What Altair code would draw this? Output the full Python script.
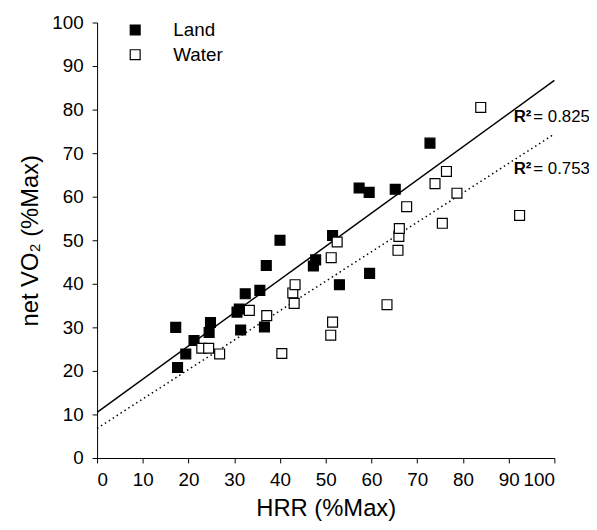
import altair as alt
import pandas as pd

# ---- data ----
land_x = [17.2, 17.6, 19.4, 21.2, 24.5, 24.8, 30.6, 31.1, 31.4, 32.4, 35.6, 36.6,
          37.0, 40.0, 47.3, 47.8, 51.5, 53.0, 57.3, 59.5, 59.6, 65.2, 72.8]
land_y = [30.0, 20.8, 23.9, 27.0, 28.8, 31.1, 33.5, 34.2, 29.4, 37.7, 38.5, 30.1,
          44.2, 50.0, 44.1, 45.5, 51.1, 39.8, 62.0, 61.0, 42.4, 61.7, 72.3]

water_x = [22.9, 24.4, 26.8, 33.3, 37.1, 40.4, 42.8, 43.1, 43.3, 51.1, 51.2, 51.5,
           52.5, 63.4, 65.8, 66.0, 66.1, 67.7, 73.9, 75.5, 76.4, 78.7, 83.9, 92.4]
water_y = [25.2, 25.2, 23.9, 33.9, 32.7, 24.0, 37.9, 35.5, 39.8, 28.2, 46.0, 31.2,
           49.6, 35.2, 47.7, 50.9, 52.7, 57.7, 63.0, 53.9, 65.8, 60.8, 80.5, 55.7]

series = ["Land", "Water"]
fit_intercept = [10.5, 6.8]
fit_slope = [0.762, 0.676]
r2_values = ["0.825", "0.753"]
r2_label_y = [78.3, 66.4]
ticks = list(range(0, 101, 10))

FONT = "Liberation Sans"

pts = pd.DataFrame({
    "HRR": land_x + water_x,
    "VO2": land_y + water_y,
    "Group": ["Land"] * len(land_x) + ["Water"] * len(water_x),
})

fit_rows = []
for g, b0, b1 in zip(series, fit_intercept, fit_slope):
    for xv in (0, 100):
        fit_rows.append({"Fit": g, "HRR": xv, "VO2": b0 + b1 * xv})
fits = pd.DataFrame(fit_rows)

labels = pd.DataFrame({
    "Fit": series,
    "VO2": r2_label_y,
    "R": ["R²", "R²"],
    "val": ["= " + v for v in r2_values],
    "xR": [91.1, 91.1],
    "xV": [95.4, 95.4],
})

x_scale = alt.Scale(domain=[0, 100], nice=False, zero=False)
y_scale = alt.Scale(domain=[0, 100], nice=False, zero=False)

x_enc = alt.X("HRR:Q", scale=x_scale,
              axis=alt.Axis(values=ticks, title="HRR (%Max)", titlePadding=7, labelPadding=8))
y_enc = alt.Y("VO2:Q", scale=y_scale,
              axis=alt.Axis(values=ticks, title="net VO₂ (%Max)", titlePadding=9, labelPadding=9))

land_line = alt.Chart(fits[fits["Fit"] == "Land"]).mark_line(
    color="black", strokeWidth=1.5).encode(x=x_enc, y=y_enc)
water_line = alt.Chart(fits[fits["Fit"] == "Water"]).mark_line(
    color="black", strokeWidth=1.5, strokeDash=[1.5, 3.2]).encode(x=x_enc, y=y_enc)

points = alt.Chart(pts).mark_point(
    shape="square", filled=True, size=100, stroke="black", strokeWidth=1.2, opacity=1
).encode(
    x=x_enc, y=y_enc,
    fill=alt.Fill("Group:N",
                  scale=alt.Scale(domain=series, range=["black", "white"]),
                  legend=alt.Legend(title=None, orient="top-left", offset=-2,
                                    symbolType="square", symbolSize=100,
                                    symbolStrokeColor="black", symbolStrokeWidth=1.2,
                                    symbolOffset=31,
                                    labelFontSize=19, labelFont=FONT, labelColor="black",
                                    labelOffset=29, rowPadding=5, padding=0)),
)

r_text = alt.Chart(labels).mark_text(
    align="left", baseline="middle", font=FONT, fontSize=17, fontWeight="bold", color="black"
).encode(x=alt.X("xR:Q", scale=x_scale), y=alt.Y("VO2:Q", scale=y_scale), text="R:N")

v_text = alt.Chart(labels).mark_text(
    align="left", baseline="middle", font=FONT, fontSize=17, color="black"
).encode(x=alt.X("xV:Q", scale=x_scale), y=alt.Y("VO2:Q", scale=y_scale), text="val:N")

chart = alt.layer(land_line, water_line, points, r_text, v_text).properties(
    width=462, height=440,
    autosize=alt.AutoSizeParams(type="none"),
    padding={"left": 90, "top": 12, "right": 35, "bottom": 62},
    background="white",
).configure_view(stroke=None).configure_axis(
    grid=False, domainColor="black", tickColor="black", labelColor="black",
    titleColor="black", labelFont=FONT, titleFont=FONT, labelFontSize=19,
    titleFontSize=24, titleFontWeight="normal", tickSize=5,
    domainWidth=1, tickWidth=1,
)

chart.save("out.html", embed_options={"renderer": "svg", "actions": False})
